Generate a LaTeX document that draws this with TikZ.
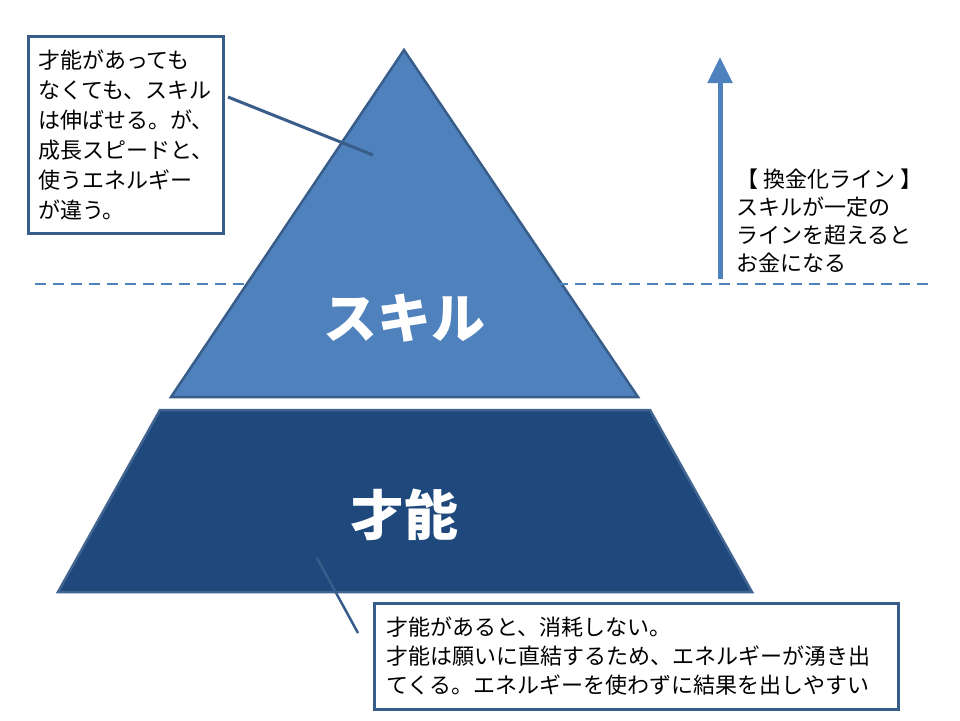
\documentclass[tikz,border=0pt]{standalone}
\usepackage{fontspec}
\newfontfamily\jp{Noto Sans CJK JP}
\usetikzlibrary{arrows.meta}
\definecolor{skillblue}{HTML}{4F81BD}
\definecolor{edgeblue}{HTML}{385D8A}
\definecolor{talentblue}{HTML}{1F497D}
\begin{document}
\begin{tikzpicture}[x=1pt,y=-1pt,
  calltext/.style={font=\jp\fontsize{22}{30}\selectfont, align=left, text=black},
  callbox/.style={calltext, draw=edgeblue, line width=3pt, fill=white, anchor=north west},
  leader/.style={draw=edgeblue, line width=3pt},
  biglabel/.style={font=\jp\bfseries\fontsize{54}{54}\selectfont, text=white}]
\useasboundingbox (0,0) rectangle (960,720);
\fill[white] (0,0) rectangle (960,720);
% pyramid
\draw[fill=skillblue, draw=edgeblue, line width=2.5pt, line join=miter]
  (404,50) -- (638,397) -- (171,397) -- cycle;
\draw[fill=talentblue, draw=talentblue!85!white, line width=2.5pt]
  (160,410) -- (650,410) -- (752,592) -- (58,592) -- cycle;
\node[biglabel] (skill) at (404,318) {スキル};
\node[biglabel] (talent) at (404,515) {才能};
% money line
\draw[skillblue, line width=2.5pt, dash pattern=on 11pt off 7pt] (35,284) -- (930,284);
\coordinate (arrbase) at (720,279);
\coordinate (arrtip) at (720,57);
\draw[skillblue, line width=5pt, -{Triangle[width=24pt,length=26pt]}] (arrbase) -- (arrtip);
\node[calltext, anchor=north west, font=\jp\fontsize{22}{28}\selectfont] (money) at (733,165)
  {【 換金化ライン 】\\スキルが一定の\\ラインを超えると\\お金になる};
% top callout
\node[callbox, text width=176pt, inner xsep=9.5pt, minimum height=197pt] (box1) at (27,35)
  {才能があっても\\なくても、スキル\\は伸ばせる。が、\\成長スピードと、\\使うエネルギー\\が違う。};
\coordinate (c1s) at (228,97);
\coordinate (c1e) at (373,155);
\draw[leader] (c1s) -- (c1e);
% bottom callout
\coordinate (c2s) at (317,558);
\coordinate (c2e) at (358,633);
\draw[leader, line width=2.5pt] (c2s) -- (c2e);
\node[callbox, text width=500pt, inner xsep=12pt, minimum height=106pt, font=\jp\fontsize{22}{29}\selectfont] (box2) at (373,602)
  {才能があると、消耗しない。\\才能は願いに直結するため、エネルギーが湧き出\\てくる。エネルギーを使わずに結果を出しやすい};
\end{tikzpicture}
\end{document}
